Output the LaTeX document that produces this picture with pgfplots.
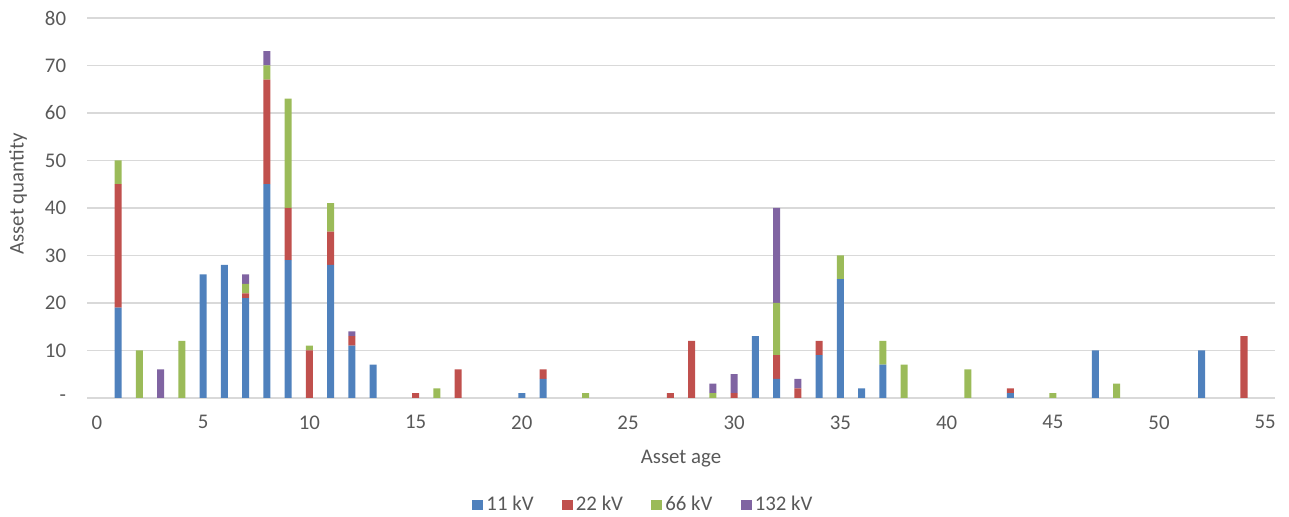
\documentclass[border=0pt]{standalone}
\usepackage{pgfplots}
\usepackage{pgfplotstable}
\pgfplotsset{compat=1.18}
\usepackage{fontspec}
\setmainfont{Carlito}
\definecolor{cA}{HTML}{4F81BD}
\definecolor{cB}{HTML}{C0504D}
\definecolor{cC}{HTML}{9BBB59}
\definecolor{cD}{HTML}{8064A2}
\definecolor{txt}{HTML}{595959}
\definecolor{grd}{HTML}{D9D9D9}
\pgfplotstableread{
age a11 a22 a66 a132
1 19 26 5 0
2 0 0 10 0
3 0 0 0 6
4 0 0 12 0
5 26 0 0 0
6 28 0 0 0
7 21 1 2 2
8 45 22 3 3
9 29 11 23 0
10 0 10 1 0
11 28 7 6 0
12 11 2 0 1
13 7 0 0 0
15 0 1 0 0
16 0 0 2 0
17 0 6 0 0
20 1 0 0 0
21 4 2 0 0
23 0 0 1 0
27 0 1 0 0
28 0 12 0 0
29 0 0 1 2
30 0 1 0 4
31 13 0 0 0
32 4 5 11 20
33 0 2 0 2
34 9 3 0 0
35 25 0 5 0
36 2 0 0 0
37 7 0 5 0
38 0 0 7 0
41 0 0 6 0
43 1 1 0 0
45 0 0 1 0
47 10 0 0 0
48 0 0 3 0
52 10 0 0 0
54 0 13 0 0
}\datatable
\begin{document}
\begin{tikzpicture}
\begin{axis}[
  scale only axis,
  width=712.8pt, height=228pt,
  ybar stacked,
  bar width=0.33,
  xmin=-0.47, xmax=55.46,
  ymin=0, ymax=80,
  xtick={0,5,...,55},
  ytick={0,10,...,80},
  yticklabels={-,10,20,30,40,50,60,70,80},
  ymajorgrids,
  grid style={grd, line width=0.9pt},
  axis x line*=bottom,
  axis y line*=left,
  x axis line style={grd, line width=0.9pt, -},
  y axis line style={draw=none},
  major tick length=0pt,
  tick style={draw=none},
  /pgf/number format/assume math mode=true,
  ticklabel style={font=\fontsize{12.5}{15}\selectfont, text=txt},
  xticklabel style={yshift=-7pt},
  yticklabel style={xshift=-9pt},
  xlabel={Asset age},
  ylabel={Asset quantity},
  label style={font=\fontsize{12.5}{15}\selectfont, text=txt},
  xlabel style={at={(axis description cs:0.5,-0.1605)}, anchor=center},
  ylabel style={at={(axis description cs:-0.058,0.537)}, anchor=center},
  legend columns=4,
  legend style={at={(axis description cs:0.469,-0.2816)}, anchor=center, draw=none,
    font=\fontsize{12.5}{15}\selectfont, text=txt,
    /tikz/every even column/.append style={column sep=15pt}},
  legend image code/.code={\fill[#1] (0pt,-3.2pt) rectangle (6.4pt,3.2pt);},
  every axis plot/.append style={draw=none},
]
\addplot[fill=cA] table[x=age,y=a11] {\datatable};
\addplot[fill=cB] table[x=age,y=a22] {\datatable};
\addplot[fill=cC] table[x=age,y=a66] {\datatable};
\addplot[fill=cD] table[x=age,y=a132] {\datatable};
\legend{11 kV,22 kV,66 kV,132 kV}
\end{axis}
\pgfresetboundingbox
\path[use as bounding box] ([xshift=-52.2pt,yshift=-71.4pt]current axis.south west) rectangle ([xshift=8.4pt,yshift=10.8pt]current axis.north east);
\end{tikzpicture}
\end{document}
